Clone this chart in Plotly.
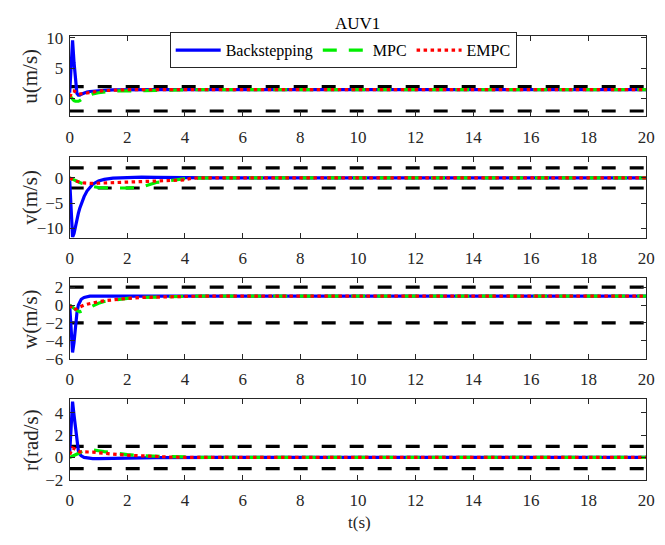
import plotly.graph_objects as go

# ---------------- data ----------------
t = [0, 0.05, 0.1, 0.15, 0.2, 0.25, 0.3, 0.35, 0.4, 0.5, 0.6, 0.7, 0.8,
     1.0, 1.2, 1.5, 2.0, 2.5, 3.0, 3.5, 4.0, 4.2, 4.5, 5.0, 20.0]

u_back = [1.0, 5.5, 9.6, 6.0, 2.5, 0.9, 0.6, 0.6, 0.75, 0.95, 1.1, 1.2, 1.25,
          1.35, 1.4, 1.45, 1.5, 1.5, 1.5, 1.5, 1.5, 1.5, 1.5, 1.5, 1.5]
u_mpc = [0.5, 0.2, -0.1, -0.3, -0.4, -0.45, -0.4, -0.3, -0.1, 0.2, 0.45, 0.65, 0.8,
         1.0, 1.15, 1.3, 1.3, 1.35, 1.45, 1.5, 1.5, 1.5, 1.5, 1.5, 1.5]
u_empc = [0.3, 0.9, 1.3, 1.3, 1.1, 0.95, 0.85, 0.8, 0.8, 0.85, 0.95, 1.05, 1.1,
          1.25, 1.35, 1.45, 1.5, 1.5, 1.5, 1.5, 1.5, 1.5, 1.5, 1.5, 1.5]

v_back = [-0.5, -7.0, -11.7, -11.0, -9.5, -8.2, -7.0, -6.0, -5.1, -3.7, -2.6, -1.8, -1.25,
          -0.6, -0.3, -0.05, 0.1, 0.15, 0.1, 0.05, 0.02, 0.0, 0.0, 0.0, 0.0]
v_mpc = [0.0, -0.15, -0.3, -0.45, -0.6, -0.7, -0.8, -0.9, -1.0, -1.2, -1.4, -1.55, -1.7,
         -1.9, -2.0, -2.0, -2.0, -1.8, -0.9, -0.45, -0.15, -0.08, 0.0, 0.0, 0.0]
v_empc = [0.0, -0.2, -0.35, -0.5, -0.6, -0.7, -0.8, -0.85, -0.9, -1.0, -1.05, -1.1, -1.1,
          -1.05, -1.0, -0.9, -0.8, -0.7, -0.6, -0.5, -0.4, -0.1, 0.0, 0.0, 0.0]

w_back = [0.0, -3.0, -5.3, -4.2, -2.2, -0.9, 0.0, 0.4, 0.65, 0.85, 0.95, 1.0, 1.0,
          1.0, 1.0, 1.0, 1.0, 1.0, 1.0, 1.0, 1.0, 1.0, 1.0, 1.0, 1.0]
w_mpc = [0.0, -0.15, -0.3, -0.4, -0.5, -0.6, -0.7, -0.75, -0.7, -0.55, -0.35, -0.2, -0.05,
         0.2, 0.4, 0.55, 0.75, 0.85, 0.92, 0.96, 0.98, 0.99, 1.0, 1.0, 1.0]
w_empc = [0.0, -0.3, -0.5, -0.55, -0.5, -0.4, -0.3, -0.2, -0.12, 0.0, 0.1, 0.18, 0.25,
          0.38, 0.48, 0.6, 0.75, 0.85, 0.91, 0.95, 0.97, 0.98, 0.99, 1.0, 1.0]

r_back = [0.4, 3.0, 5.0, 3.8, 2.6, 1.3, 0.6, 0.3, 0.15, 0.0, -0.05, -0.08, -0.1,
          -0.1, -0.1, -0.08, -0.05, -0.03, -0.02, 0.0, 0.0, 0.0, 0.0, 0.0, 0.0]
r_mpc = [0.0, 0.05, 0.1, 0.15, 0.2, 0.28, 0.35, 0.42, 0.5, 0.6, 0.68, 0.7, 0.68,
         0.6, 0.52, 0.4, 0.25, 0.15, 0.1, 0.06, 0.03, 0.02, 0.01, 0.0, 0.0]
r_empc = [0.25, 0.6, 0.85, 0.8, 0.7, 0.6, 0.55, 0.5, 0.5, 0.5, 0.5, 0.5, 0.48,
          0.42, 0.36, 0.3, 0.2, 0.12, 0.06, 0.03, 0.01, 0.0, 0.0, 0.0, 0.0]

t_bound = [0, 20]
u_bounds = [2, -2]
v_bounds = [2, -2]
w_bounds = [2, -2]
r_bounds = [1, -1]

series_names = ["Backstepping", "MPC", "EMPC"]
y_labels = ["u(m/s)", "v(m/s)", "w(m/s)", "r(rad/s)"]
y_ranges = [[-2.9, 10.3], [-11.8, 4.1], [-6, 3.0], [-2, 5.2]]
y_ticks = [[0, 5, 10], [-10, -5, 0], [-6, -4, -2, 0, 2], [-2, 0, 2, 4]]
x_ticks = [0, 2, 4, 6, 8, 10, 12, 14, 16, 18, 20]

# ---------------- figure ----------------
W, H = 665, 545
FONT = "Liberation Serif"
AX = "#262626"

panels = [
    (u_back, u_mpc, u_empc, u_bounds),
    (v_back, v_mpc, v_empc, v_bounds),
    (w_back, w_mpc, w_empc, w_bounds),
    (r_back, r_mpc, r_empc, r_bounds),
]
pix = [(30, 113), (155, 238), (280, 363), (405, 488)]
x_left, x_right = 67, 655

fig = go.Figure()
styles = [
    dict(color="#0000ff", width=3.2, dash="solid"),
    dict(color="#00ee00", width=3.2, dash="14px,12px"),
    dict(color="#ff0000", width=3.2, dash="3.5px,3.5px"),
]

layout = dict(
    width=W, height=H, margin=dict(l=0, r=0, t=0, b=0),
    paper_bgcolor="white", plot_bgcolor="white",
    font=dict(family=FONT, size=17, color=AX),
    showlegend=True,
)

for i, (b, m, e, bnd) in enumerate(panels):
    k = "" if i == 0 else str(i + 1)
    xa, ya = "x" + k, "y" + k
    for yv in bnd:
        fig.add_trace(go.Scatter(x=t_bound, y=[yv, yv], mode="lines", xaxis=xa, yaxis=ya,
                                 line=dict(color="black", width=3.2, dash="14px,14px"),
                                 showlegend=False, hoverinfo="skip"))
    for j, ys in enumerate([b, m, e]):
        fig.add_trace(go.Scatter(x=t, y=ys, mode="lines", xaxis=xa, yaxis=ya,
                                 name=series_names[j], line=styles[j],
                                 showlegend=(i == 0)))
    axcommon = dict(showline=True, linecolor=AX, linewidth=1, mirror="ticks",
                    ticks="inside", ticklen=5, tickcolor=AX, tickwidth=1,
                    showgrid=False, zeroline=False,
                    tickfont=dict(family=FONT, size=17, color=AX))
    top, bot = pix[i]
    layout["xaxis" + k] = dict(domain=[x_left / W, x_right / W], range=[0, 20],
                               tickvals=x_ticks, anchor=ya, ticklabelstandoff=5, **axcommon)
    layout["yaxis" + k] = dict(domain=[1 - bot / H, 1 - top / H], range=y_ranges[i],
                               tickvals=y_ticks[i], anchor=xa, ticklabelstandoff=2, **axcommon)

fig.update_layout(**layout)

annotations = []
for i, lab in enumerate(y_labels):
    top, bot = pix[i]
    annotations.append(dict(text=lab, x=27 / W, y=1 - (top + bot) / 2 / H,
                            xref="paper", yref="paper", showarrow=False, textangle=-90,
                            font=dict(family=FONT, size=21, color=AX),
                            xanchor="center", yanchor="middle"))
annotations.append(dict(text="AUV1", x=(x_left + x_right) / 2 / W, y=1 - 17 / H,
                        xref="paper", yref="paper", showarrow=False,
                        font=dict(family=FONT, size=17, color="black"),
                        xanchor="center", yanchor="middle"))
annotations.append(dict(text="t(s)", x=363 / W, y=1 - 532 / H,
                        xref="paper", yref="paper", showarrow=False,
                        font=dict(family=FONT, size=17, color=AX),
                        xanchor="center", yanchor="middle"))
fig.update_layout(annotations=annotations)

fig.update_layout(legend=dict(orientation="h", x=169 / W, y=1 - 26 / H,
                              xanchor="left", yanchor="top",
                              bgcolor="white", bordercolor=AX, borderwidth=1,
                              font=dict(family=FONT, size=16, color="black"),
                              itemwidth=45, tracegroupgap=0))

fig.write_html("out.html")
